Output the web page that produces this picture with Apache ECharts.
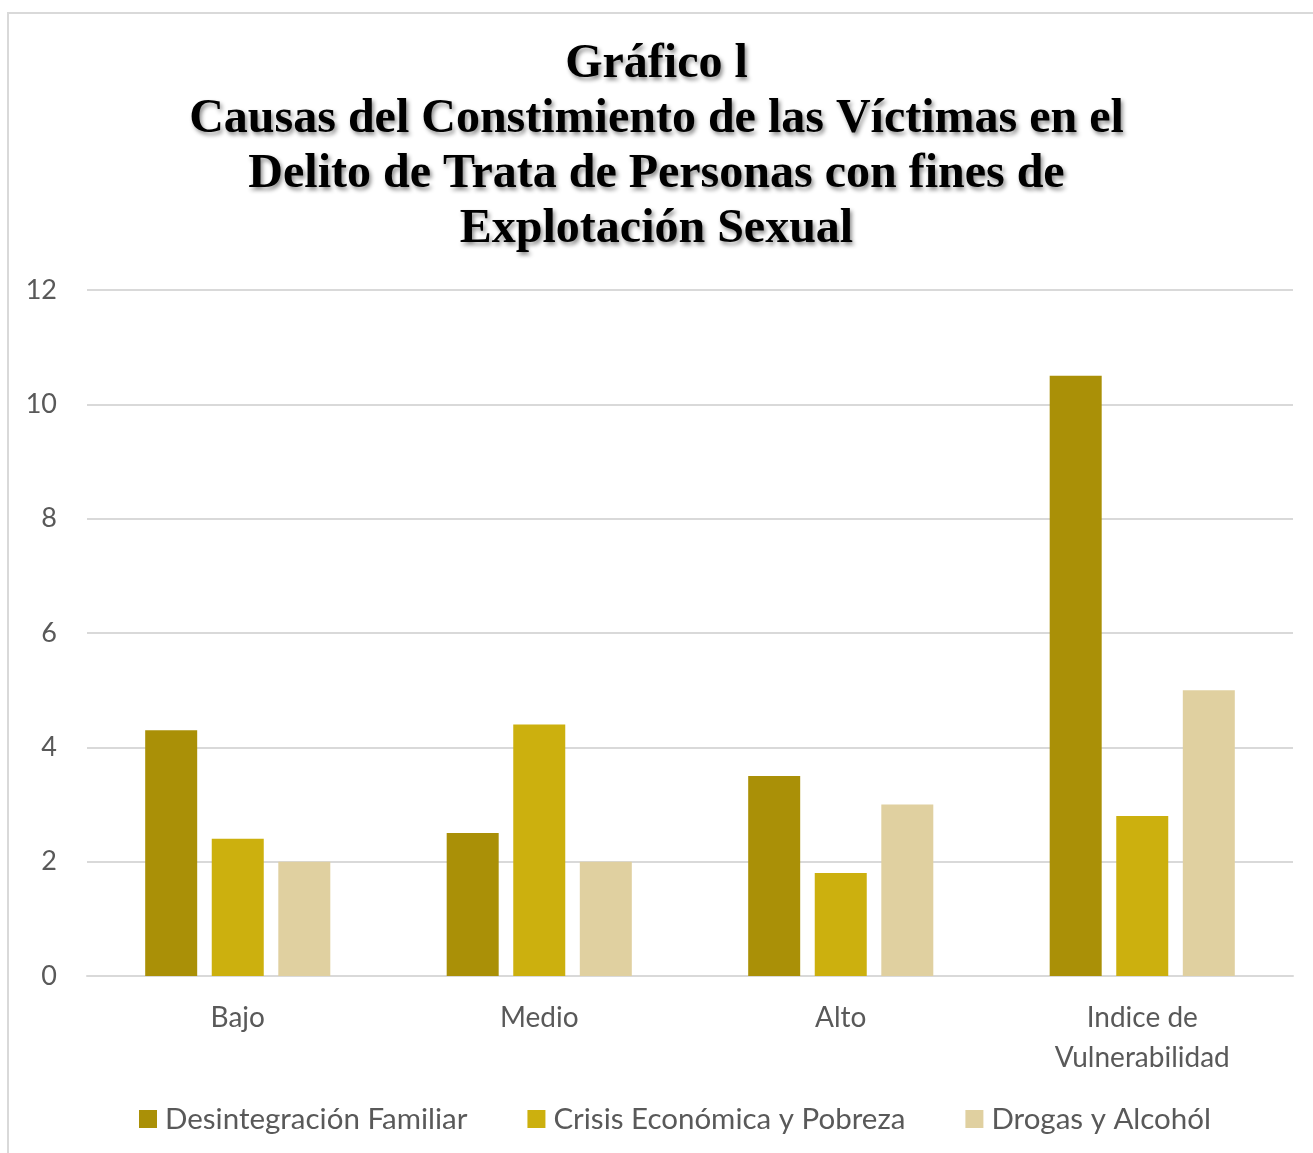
<!DOCTYPE html>
<html><head><meta charset="utf-8">
<script src="https://cdn.jsdelivr.net/npm/echarts@6/dist/echarts.min.js"></script>
<style>
html,body{margin:0;padding:0;background:#fff;}
#frame{position:absolute;left:7px;top:12px;width:1320px;height:1160px;border:2px solid #d9d9d9;box-sizing:border-box;}
#c{position:absolute;left:0;top:0;width:1313px;height:1153px;}
</style></head>
<body>
<div id="frame"></div>
<div id="c"></div>
<script>
const categories = ['Bajo', 'Medio', 'Alto', 'Indice de\nVulnerabilidad'];
const seriesNames = ['Desintegración Familiar', 'Crisis Económica y Pobreza', 'Drogas y Alcohól'];
const desintegracion = [4.3, 2.5, 3.5, 10.5];
const crisis = [2.4, 4.4, 1.8, 2.8];
const drogas = [2.0, 2.0, 3.0, 5.0];
const colors = ['#AA9007', '#CCB00E', '#E0D0A0'];
const yTicks = { min: 0, max: 12, interval: 2 };
const titleText = 'Gráfico l\nCausas del Constimiento de las Víctimas en el\nDelito de Trata de Personas con fines de\nExplotación Sexual';

const chart = echarts.init(document.getElementById('c'), null, { renderer: 'canvas' });
const values = [desintegracion, crisis, drogas];
chart.setOption({
  backgroundColor: 'transparent',
  animation: false,
  title: {
    text: titleText,
    left: 'center',
    top: 32,
    textStyle: {
      fontFamily: '"Liberation Serif", "DejaVu Serif", serif',
      fontWeight: 'bold',
      fontSize: 48,
      lineHeight: 55,
      color: '#000',
      textShadowColor: 'rgba(0,0,0,0.45)',
      textShadowBlur: 4,
      textShadowOffsetX: 2,
      textShadowOffsetY: 3
    }
  },
  legend: {
    bottom: 14,
    left: 134,
    itemWidth: 18,
    itemHeight: 18,
    itemGap: 60,
    icon: 'rect',
    textStyle: { fontFamily: 'Lato, "Open Sans", sans-serif', fontSize: 29.5, color: '#595959', padding: [0, 0, 0, 3] },
    data: seriesNames
  },
  grid: { left: 87, right: 20, top: 290, bottom: 177, containLabel: false },
  xAxis: {
    type: 'category',
    data: categories,
    axisLine: { show: true, lineStyle: { color: '#d9d9d9', width: 2 } },
    axisTick: { show: false },
    axisLabel: {
      fontFamily: 'Lato, "Open Sans", sans-serif',
      fontSize: 28,
      color: '#595959',
      lineHeight: 40,
      margin: 22
    }
  },
  yAxis: {
    type: 'value',
    min: yTicks.min,
    max: yTicks.max,
    interval: yTicks.interval,
    axisLine: { show: false },
    axisTick: { show: false },
    splitLine: { lineStyle: { color: '#d9d9d9', width: 2 } },
    axisLabel: {
      fontFamily: 'Lato, "Open Sans", sans-serif',
      fontSize: 27,
      color: '#595959',
      margin: 30
    }
  },
  series: seriesNames.map((name, i) => ({
    name: name,
    type: 'bar',
    data: values[i],
    barWidth: 52,
    barGap: '28%',
    itemStyle: { color: colors[i] }
  }))
});
</script>
</body></html>
